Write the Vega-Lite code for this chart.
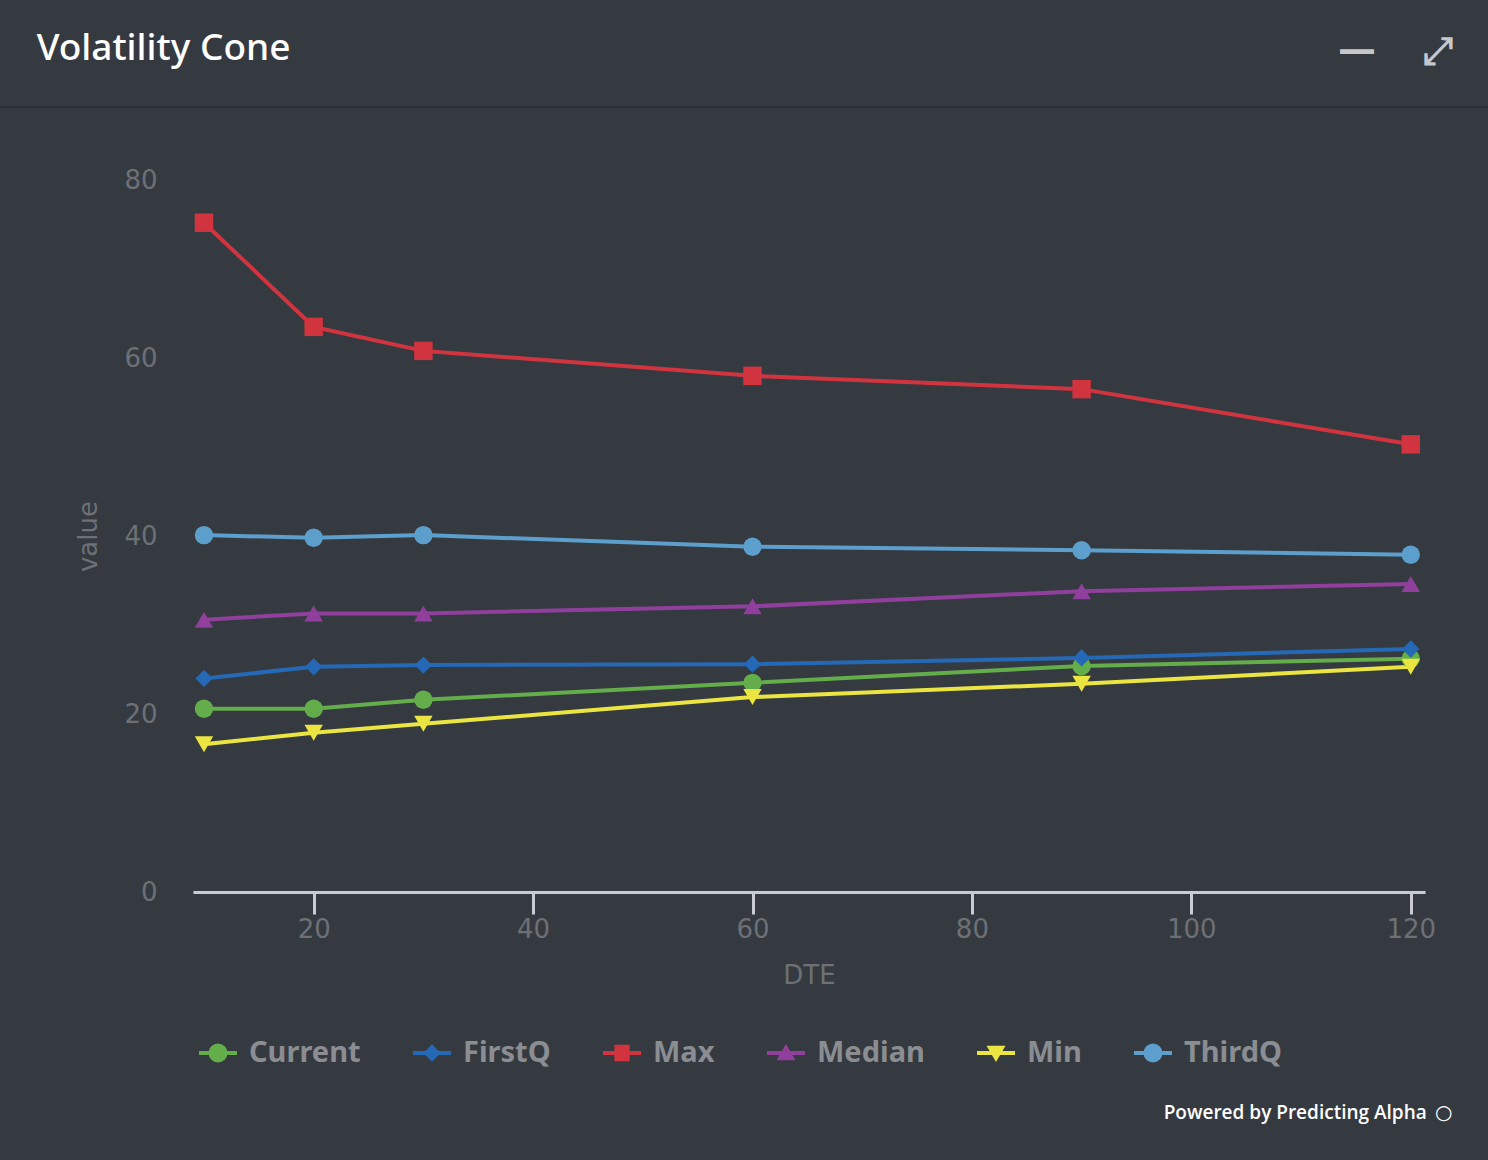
{
  "$schema": "https://vega.github.io/schema/vega-lite/v6.json",
  "width": 1232,
  "height": 712,
  "autosize": {"type": "none"},
  "padding": {"left": 193, "top": 180, "right": 63, "bottom": 268},
  "background": "#353a41",
  "config": {
    "view": {"stroke": null},
    "font": "Noto Sans"
  },
  "datasets": {
    "vol": [
      {"DTE": 10, "series": "Current", "value": 20.6},
      {"DTE": 20, "series": "Current", "value": 20.6},
      {"DTE": 30, "series": "Current", "value": 21.6},
      {"DTE": 60, "series": "Current", "value": 23.5},
      {"DTE": 90, "series": "Current", "value": 25.4},
      {"DTE": 120, "series": "Current", "value": 26.2},
      {"DTE": 10, "series": "FirstQ", "value": 24.0},
      {"DTE": 20, "series": "FirstQ", "value": 25.3},
      {"DTE": 30, "series": "FirstQ", "value": 25.5},
      {"DTE": 60, "series": "FirstQ", "value": 25.6},
      {"DTE": 90, "series": "FirstQ", "value": 26.3},
      {"DTE": 120, "series": "FirstQ", "value": 27.3},
      {"DTE": 10, "series": "Max", "value": 75.2},
      {"DTE": 20, "series": "Max", "value": 63.5},
      {"DTE": 30, "series": "Max", "value": 60.8},
      {"DTE": 60, "series": "Max", "value": 58.0},
      {"DTE": 90, "series": "Max", "value": 56.5},
      {"DTE": 120, "series": "Max", "value": 50.3},
      {"DTE": 10, "series": "Median", "value": 30.6},
      {"DTE": 20, "series": "Median", "value": 31.3},
      {"DTE": 30, "series": "Median", "value": 31.3},
      {"DTE": 60, "series": "Median", "value": 32.1},
      {"DTE": 90, "series": "Median", "value": 33.8},
      {"DTE": 120, "series": "Median", "value": 34.6},
      {"DTE": 10, "series": "Min", "value": 16.6},
      {"DTE": 20, "series": "Min", "value": 17.9},
      {"DTE": 30, "series": "Min", "value": 18.9},
      {"DTE": 60, "series": "Min", "value": 21.9},
      {"DTE": 90, "series": "Min", "value": 23.4},
      {"DTE": 120, "series": "Min", "value": 25.3},
      {"DTE": 10, "series": "ThirdQ", "value": 40.1},
      {"DTE": 20, "series": "ThirdQ", "value": 39.8},
      {"DTE": 30, "series": "ThirdQ", "value": 40.1},
      {"DTE": 60, "series": "ThirdQ", "value": 38.8},
      {"DTE": 90, "series": "ThirdQ", "value": 38.4},
      {"DTE": 120, "series": "ThirdQ", "value": 37.9}
    ],
    "heading": [
      {"DTE": -5.25, "value": 93.5, "label": "Volatility Cone"}
    ],
    "note": [
      {"DTE": 121.46, "value": -24.8, "label": "Powered by Predicting Alpha"}
    ],
    "noteicon": [
      {"DTE": 123.0, "value": -24.8, "label": "○"}
    ],
    "icons": [
      {"DTE": 115.1, "value": 94.55, "label": "—"},
      {"DTE": 122.5, "value": 94.4, "label": "⤢"}
    ],
    "sep": [
      {"DTE": -9, "DTE2": 128, "value": 88.2}
    ]
  },
  "layer": [
    {
      "data": {"name": "sep"},
      "mark": {"type": "rule", "color": "#2b2f35", "strokeWidth": 2, "clip": false},
      "encoding": {
        "x": {"field": "DTE", "type": "quantitative"},
        "x2": {"field": "DTE2"},
        "y": {"field": "value", "type": "quantitative"}
      }
    },
    {
      "data": {"name": "vol"},
      "mark": {"type": "line", "strokeWidth": 4},
      "encoding": {
        "x": {
          "field": "DTE",
          "type": "quantitative",
          "scale": {"domain": [9, 121.3], "nice": false, "zero": false},
          "axis": {
            "values": [20, 40, 60, 80, 100, 120],
            "grid": false,
            "domainColor": "#c9cdd3",
            "domainWidth": 3,
            "tickColor": "#c9cdd3",
            "tickWidth": 3,
            "tickSize": 22,
            "labelColor": "#6d7075",
            "labelFontSize": 26,
            "labelPadding": 2,
            "labelFont": "DejaVu Sans",
            "title": "DTE",
            "titleColor": "#6d7075",
            "titleFontSize": 26,
            "titleFontWeight": "normal",
            "titleFont": "DejaVu Sans",
            "titlePadding": 20
          }
        },
        "y": {
          "field": "value",
          "type": "quantitative",
          "scale": {"domain": [0, 80], "nice": false},
          "axis": {
            "values": [0, 20, 40, 60, 80],
            "grid": false,
            "domain": false,
            "ticks": false,
            "labelColor": "#6d7075",
            "labelFontSize": 26,
            "labelPadding": 36,
            "labelFont": "DejaVu Sans",
            "title": "value",
            "titleColor": "#6d7075",
            "titleFontSize": 26,
            "titleFontWeight": "normal",
            "titleFont": "DejaVu Sans",
            "titlePadding": 22
          }
        },
        "color": {
          "field": "series",
          "type": "nominal",
          "scale": {
            "domain": ["Current", "FirstQ", "Max", "Median", "Min", "ThirdQ"],
            "range": ["#64ad4b", "#2468b6", "#d2343f", "#903f9c", "#ebe541", "#5c9fcc"]
          },
          "legend": {
            "orient": "none",
            "direction": "horizontal",
            "legendX": 6,
            "legendY": 854,
            "title": null,
            "labelColor": "#8a8d91",
            "labelFontSize": 29,
            "labelFontWeight": "bold",
            "labelFont": "Noto Sans",
            "symbolSize": 1444,
            "symbolStrokeWidth": 0,
            "labelOffset": 12,
            "columnPadding": 52,
            "symbolOpacity": 1,
            "encode": {
              "symbols": {
                "update": {
                  "shape": {
                    "signal": "(datum.value === 'Current' || datum.value === 'ThirdQ') ? 'M-1,-0.1H1V0.1H-1Z M0.5,0L0.462,0.191L0.354,0.354L0.191,0.462L0,0.5L-0.191,0.462L-0.354,0.354L-0.462,0.191L-0.5,0L-0.462,-0.191L-0.354,-0.354L-0.191,-0.462L0,-0.5L0.191,-0.462L0.354,-0.354L0.462,-0.191Z' : datum.value === 'FirstQ' ? 'M-1,-0.1H1V0.1H-1Z M0,-0.46L0.46,0L0,0.46L-0.46,0Z' : datum.value === 'Max' ? 'M-1,-0.1H1V0.1H-1Z M-0.4,-0.44H0.4V0.44H-0.4Z' : datum.value === 'Median' ? 'M-1,-0.1H1V0.1H-1Z M0,-0.48L0.5,0.38H-0.5Z' : 'M-1,-0.1H1V0.1H-1Z M0,0.48L-0.5,-0.38H0.5Z'"
                  },
                  "fill": {"scale": "color", "field": "value"},
                  "fillOpacity": {"value": 1},
                  "stroke": {"value": "transparent"},
                  "strokeWidth": {"value": 0}
                }
              }
            }
          }
        }
      }
    },
    {
      "data": {"name": "vol"},
      "transform": [{"filter": {"field": "series", "oneOf": ["Current", "ThirdQ"]}}],
      "mark": {"type": "point", "shape": "circle", "filled": true, "opacity": 1, "size": 340},
      "encoding": {
        "x": {"field": "DTE", "type": "quantitative"},
        "y": {"field": "value", "type": "quantitative"},
        "color": {"field": "series", "type": "nominal"}
      }
    },
    {
      "data": {"name": "vol"},
      "transform": [{"filter": {"field": "series", "equal": "FirstQ"}}],
      "mark": {"type": "point", "shape": "diamond", "filled": true, "opacity": 1, "size": 300},
      "encoding": {
        "x": {"field": "DTE", "type": "quantitative"},
        "y": {"field": "value", "type": "quantitative"},
        "color": {"field": "series", "type": "nominal"}
      }
    },
    {
      "data": {"name": "vol"},
      "transform": [{"filter": {"field": "series", "equal": "Max"}}],
      "mark": {"type": "point", "shape": "square", "filled": true, "opacity": 1, "size": 340},
      "encoding": {
        "x": {"field": "DTE", "type": "quantitative"},
        "y": {"field": "value", "type": "quantitative"},
        "color": {"field": "series", "type": "nominal"}
      }
    },
    {
      "data": {"name": "vol"},
      "transform": [{"filter": {"field": "series", "equal": "Median"}}],
      "mark": {"type": "point", "shape": "triangle-up", "filled": true, "opacity": 1, "size": 340},
      "encoding": {
        "x": {"field": "DTE", "type": "quantitative"},
        "y": {"field": "value", "type": "quantitative"},
        "color": {"field": "series", "type": "nominal"}
      }
    },
    {
      "data": {"name": "vol"},
      "transform": [{"filter": {"field": "series", "equal": "Min"}}],
      "mark": {"type": "point", "shape": "triangle-down", "filled": true, "opacity": 1, "size": 340},
      "encoding": {
        "x": {"field": "DTE", "type": "quantitative"},
        "y": {"field": "value", "type": "quantitative"},
        "color": {"field": "series", "type": "nominal"}
      }
    },
    {
      "data": {"name": "heading"},
      "mark": {"type": "text", "align": "left", "baseline": "alphabetic", "color": "#ffffff", "fontSize": 37, "font": "Noto Sans", "fontWeight": 500, "clip": false},
      "encoding": {
        "x": {"field": "DTE", "type": "quantitative"},
        "y": {"field": "value", "type": "quantitative"},
        "text": {"field": "label"}
      }
    },
    {
      "data": {"name": "note"},
      "mark": {"type": "text", "align": "right", "baseline": "middle", "color": "#ffffff", "fontSize": 19, "font": "Open Sans", "fontWeight": 600, "clip": false},
      "encoding": {
        "x": {"field": "DTE", "type": "quantitative"},
        "y": {"field": "value", "type": "quantitative"},
        "text": {"field": "label"}
      }
    },
    {
      "data": {"name": "noteicon"},
      "mark": {"type": "text", "align": "center", "baseline": "middle", "color": "#ffffff", "fontSize": 20, "font": "DejaVu Sans", "fontWeight": "bold", "clip": false},
      "encoding": {
        "x": {"field": "DTE", "type": "quantitative"},
        "y": {"field": "value", "type": "quantitative"},
        "text": {"field": "label"}
      }
    },
    {
      "data": {"name": "icons"},
      "mark": {"type": "text", "align": "center", "baseline": "middle", "color": "#c4c7cc", "fontSize": 38, "font": "DejaVu Sans", "fontWeight": "bold", "clip": false},
      "encoding": {
        "x": {"field": "DTE", "type": "quantitative"},
        "y": {"field": "value", "type": "quantitative"},
        "text": {"field": "label"}
      }
    }
  ]
}
